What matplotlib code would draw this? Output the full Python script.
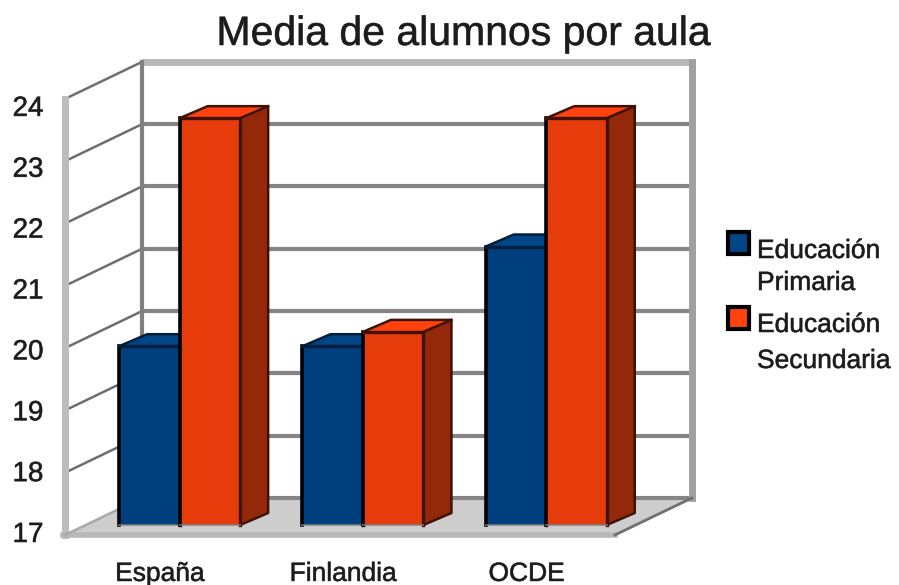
import matplotlib
matplotlib.use('Agg')
import matplotlib.pyplot as plt
import matplotlib.patheffects as pe
from matplotlib.patches import Polygon, Rectangle
from matplotlib.transforms import Affine2D, IdentityTransform

plt.rcParams['font.family'] = ['Liberation Sans', 'DejaVu Sans']

title = 'Media de alumnos por aula'
categories = ['España', 'Finlandia', 'OCDE']
primaria = [19.87, 19.87, 21.47]
secundaria = [23.53, 20.1, 23.53]
series_names = [['Educación', 'Primaria'], ['Educación', 'Secundaria']]
y_ticks = [17, 18, 19, 20, 21, 22, 23, 24]

W, H = 899, 585
PX_Y = 62.3      # pixels per unit, y
PX_X = 183.3     # pixels per category
FRONT_L = 65
FRONT_B = 535
TEXT_COL = '#1c1c1c'
BLUR = [pe.withStroke(linewidth=0.5, foreground='#555555')]

fig = plt.figure(figsize=(W / 100, H / 100), dpi=100)
ax = fig.add_axes([0, 0, 1, 1])
ax.set_xlim(-0.5 - FRONT_L / PX_X, -0.5 + (W - FRONT_L) / PX_X)
ax.set_ylim(17 - (H - FRONT_B) / PX_Y, 17 + FRONT_B / PX_Y)
ax.axis('off')
screen = IdentityTransform()
top_left = Affine2D().scale(1, -1).translate(0, H)   # legend placed in image pixels


def depth(dx, dy):
    # shift in pixels, the fake 3d depth
    return ax.transData + Affine2D().translate(dx, dy)


def depth_line(x, y, color, lw, z):
    a = ax.transData.transform((x, y))
    b = a + (77, 37)
    ax.plot([a[0], b[0]], [a[1], b[1]], color=color, lw=lw, transform=screen, zorder=z)


back = depth(77, 37)
x0, x1 = -0.5, 2.5
y0, y1 = y_ticks[0], y_ticks[-1]

# floor
fl = [ax.transData.transform((x0, y0)), ax.transData.transform((x1, y0))]
fl += [fl[1] + (77, 37), fl[0] + (77, 37)]
ax.add_patch(Polygon(fl, closed=True, fc='#cdcdcd', ec='none', transform=screen, zorder=0.5))

# walls
for v in y_ticks:
    c = '#b8b8b8' if v == y1 else '#858585'
    ax.plot([x0, x1], [v, v], color=c, lw=5 if v == y1 else 3, transform=back,
            solid_capstyle='butt', zorder=1)
    if v > y0:
        depth_line(x0, v, '#6e6e6e', 1.8, 1)
ax.plot([x0, x0], [y0, y1], color='#808080', lw=3, transform=back, zorder=1.1)
ax.plot([x1, x1], [y0, y1], color='#a0a0a0', lw=5, transform=back, zorder=1.1)
ax.plot([x0, x0], [y0, y1], color='#bcbcbc', lw=5, zorder=1.1)
ax.plot([x0 - 0.01, x1], [y0, y0], color='#b8b8b8', lw=4, zorder=1.2)
depth_line(x0, y0, '#a8a8a8', 1.8, 1.2)
depth_line(x1, y0, '#707070', 2, 1.2)


def bar3d(xl, xr, top, front, side, cap, edge, z):
    # front face sits 23,10 px behind the front plane, bar depth is 28,12 px
    t = depth(23, 10)
    dy = 12 / PX_Y
    dx = 28 / PX_X
    ax.add_patch(Polygon([(xr, y0), (xr + dx, y0 + dy), (xr + dx, top + dy), (xr, top)],
                         fc=side, ec='none', transform=t, zorder=z))
    ax.add_patch(Polygon([(xl, top), (xr, top), (xr + dx, top + dy), (xl + dx, top + dy)],
                         fc=cap, ec='none', transform=t, zorder=z))
    ax.add_patch(Polygon([(xl, y0), (xr, y0), (xr, top), (xl, top)],
                         fc=front, ec='none', transform=t, zorder=z))
    ax.plot([xl, xl], [y0, top], color='black', lw=2.6, transform=t, zorder=z + 0.1)
    ax.plot([xl, xr, xr], [top, top, y0], color=edge, lw=2.4, transform=t, zorder=z + 0.1)
    ax.plot([xl, xl + dx, xr + dx, xr + dx, xr], [top, top + dy, top + dy, y0 + dy, y0],
            color=edge, lw=1.8, transform=t, zorder=z + 0.1)
    ax.plot([xr, xr + dx], [top, top + dy], color=edge, lw=1.8, transform=t, zorder=z + 0.1)
    ax.plot([xl, xr], [y0, y0], color='#808080', lw=1.5, alpha=0.7, transform=t, zorder=z + 0.1)


w = 0.33
for i in range(len(categories)):
    bar3d(i - w, i, primaria[i], '#003f7e', '#002a54', '#004586', '#001e3c', 2)
    bar3d(i, i + w, secundaria[i], '#e63c0c', '#94290a', '#ff420e', '#3f1206', 3)

for i, name in enumerate(categories):
    ax.text(i + 0.018, 16.375, name, ha='center', va='center', fontsize=19, color=TEXT_COL,
            path_effects=BLUR)

for v in y_ticks:
    ax.text(28 / W, v + (0 - (v - 17) * 10 / 7) / PX_Y, str(v), ha='center', va='center',
            fontsize=20, color=TEXT_COL, transform=ax.get_yaxis_transform(), path_effects=BLUR)

fig.text(464 / W, 1 - 34 / H, title, ha='center', va='center', fontsize=29.5, color=TEXT_COL,
         path_effects=BLUR)

# legend
colours = ['#004586', '#ff420e']
box_y = [232, 307]
text_y = [[251, 283], [325, 361]]
for k in range(2):
    ax.add_patch(Rectangle((728, box_y[k]), 21, 22, fc=colours[k], ec='black', lw=3,
                           transform=top_left, zorder=5))
    for line, yy in zip(series_names[k], text_y[k]):
        ax.text(757, yy, line, ha='left', va='center', fontsize=19, color=TEXT_COL,
                transform=top_left, path_effects=BLUR)

fig.savefig('out.png', dpi=100)
